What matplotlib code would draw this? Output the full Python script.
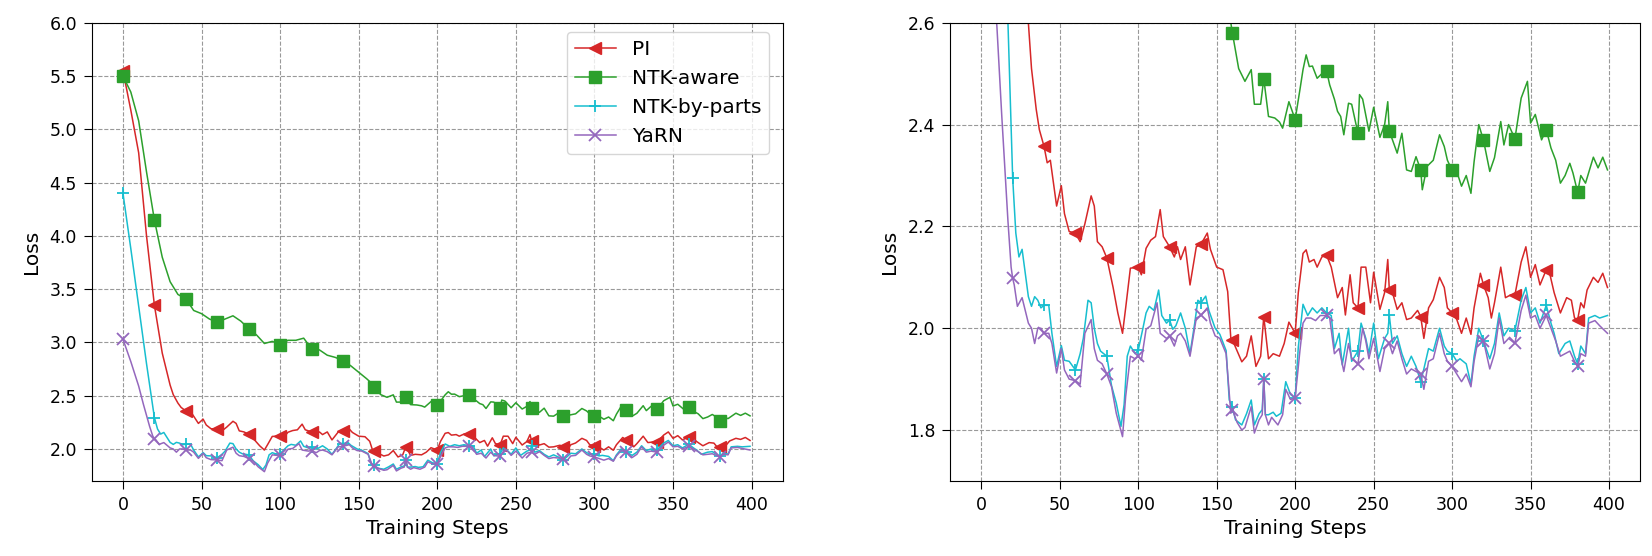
import matplotlib
matplotlib.use("Agg")
import matplotlib.pyplot as plt
import numpy as np

# ---------------- data ----------------
pi_steps = [0, 5, 10, 15, 20, 25, 30, 32, 35, 37, 40, 42, 44, 48, 51, 53, 56, 60, 63, 66, 70, 72, 74, 77,
            80, 84, 87, 90, 92, 95, 100, 102, 105, 108, 111, 114, 116, 118, 120, 123, 125, 127, 130, 133,
            137, 140, 144, 146, 150, 154, 157, 159, 160, 166, 169, 172, 175, 178, 180, 183, 186, 190, 193,
            196, 200, 202, 205, 207, 209, 212, 214, 217, 220, 223, 225, 227, 230, 232, 235, 237, 240, 242,
            245, 248, 250, 254, 257, 259, 260, 262, 265, 268, 271, 274, 278, 280, 282, 285, 288, 292, 295,
            297, 300, 303, 306, 309, 312, 314, 318, 320, 323, 325, 327, 331, 334, 337, 340, 344, 347, 350,
            353, 356, 360, 362, 365, 369, 373, 376, 378, 380, 382, 384, 386, 390, 393, 396, 399]
pi_loss = [5.55, 5.18, 4.78, 4.00, 3.35, 2.90, 2.60, 2.51, 2.43, 2.39, 2.357, 2.325, 2.33, 2.24, 2.28, 2.225,
           2.19, 2.187, 2.17, 2.205, 2.26, 2.24, 2.17, 2.16, 2.138, 2.08, 2.03, 1.99, 2.04, 2.118, 2.12, 2.105,
           2.157, 2.173, 2.18, 2.233, 2.18, 2.17, 2.16, 2.14, 2.16, 2.135, 2.16, 2.085, 2.16, 2.165, 2.187,
           2.155, 2.12, 2.115, 2.072, 1.98, 1.977, 1.934, 1.945, 1.985, 1.925, 1.945, 2.023, 1.94, 1.95, 1.945,
           1.97, 2.012, 1.99, 2.07, 2.147, 2.154, 2.13, 2.135, 2.12, 2.14, 2.144, 2.12, 2.09, 2.06, 2.08, 2.026,
           2.105, 2.05, 2.04, 2.12, 2.12, 2.05, 2.11, 2.037, 2.07, 2.135, 2.075, 2.07, 2.037, 2.05, 2.017, 2.02,
           2.035, 2.023, 1.98, 2.04, 2.056, 2.10, 2.08, 2.04, 2.03, 2.017, 1.99, 2.02, 1.988, 2.04, 2.108,
           2.085, 2.06, 2.02, 2.05, 2.12, 2.06, 2.065, 2.065, 2.13, 2.16, 2.10, 2.125, 2.085, 2.115, 2.11, 2.07,
           2.03, 2.06, 2.055, 2.02, 2.017, 2.05, 2.04, 2.075, 2.10, 2.09, 2.108, 2.08]

ntka_steps = [0, 5, 10, 15, 20, 25, 30, 35, 40, 45, 50, 55, 60, 65, 70, 75, 80, 85, 90, 95, 100, 105, 110,
              115, 120, 125, 130, 135, 140, 145, 150, 155, 158, 160, 164, 168, 172, 174, 178, 180, 183, 187,
              190, 192, 196, 200, 203, 205, 207, 209, 211, 214, 217, 220, 222, 225, 227, 229, 231, 234, 236,
              240, 241, 243, 247, 250, 254, 257, 259, 260, 262, 265, 268, 271, 274, 277, 280, 281, 284, 288,
              292, 295, 297, 300, 304, 306, 309, 312, 314, 317, 320, 324, 327, 331, 333, 336, 340, 344, 348,
              350, 353, 357, 360, 363, 366, 369, 372, 375, 377, 380, 382, 385, 390, 393, 396, 399]
ntka_loss = [5.50, 5.35, 5.08, 4.60, 4.15, 3.80, 3.57, 3.45, 3.41, 3.30, 3.27, 3.22, 3.19, 3.22, 3.25, 3.20,
             3.13, 3.07, 2.99, 3.01, 2.98, 3.02, 3.02, 3.04, 2.94, 2.93, 2.88, 2.86, 2.83, 2.78, 2.72, 2.66,
             2.62, 2.58, 2.51, 2.485, 2.508, 2.44, 2.44, 2.49, 2.416, 2.413, 2.405, 2.393, 2.445, 2.41, 2.468,
             2.508, 2.537, 2.514, 2.515, 2.491, 2.50, 2.506, 2.478, 2.45, 2.426, 2.416, 2.38, 2.442, 2.44,
             2.383, 2.459, 2.45, 2.387, 2.434, 2.375, 2.40, 2.445, 2.387, 2.37, 2.344, 2.383, 2.311, 2.308,
             2.337, 2.311, 2.272, 2.318, 2.33, 2.380, 2.357, 2.33, 2.31, 2.298, 2.279, 2.30, 2.265, 2.327,
             2.40, 2.369, 2.308, 2.335, 2.406, 2.36, 2.40, 2.372, 2.452, 2.485, 2.403, 2.42, 2.37, 2.39, 2.354,
             2.33, 2.285, 2.30, 2.324, 2.305, 2.267, 2.30, 2.285, 2.336, 2.315, 2.336, 2.311]

ntkp_steps = [0, 5, 10, 15, 17, 20, 22, 24, 26, 28, 30, 32, 34, 36, 38, 40, 43, 45, 48, 51, 53, 56, 60, 63,
              65, 68, 70, 72, 74, 76, 80, 83, 86, 89, 91, 93, 95, 98, 100, 103, 105, 107, 110, 113, 115, 118,
              120, 122, 124, 127, 130, 133, 136, 138, 140, 143, 145, 149, 152, 156, 158, 160, 162, 166, 169,
              172, 174, 177, 179, 180, 181, 183, 186, 188, 191, 194, 197, 200, 202, 205, 208, 211, 214, 217,
              220, 223, 225, 228, 230, 234, 236, 240, 242, 245, 247, 250, 253, 257, 259, 260, 262, 265, 268,
              271, 274, 277, 280, 282, 285, 288, 292, 295, 297, 300, 303, 305, 309, 312, 314, 317, 320, 324,
              327, 330, 333, 336, 340, 344, 347, 350, 353, 356, 360, 363, 365, 368, 372, 375, 378, 380, 382,
              385, 387, 391, 394, 399]
ntkp_loss = [4.40, 3.88, 3.34, 2.80, 2.60, 2.295, 2.187, 2.14, 2.155, 2.108, 2.062, 2.043, 2.062, 2.055,
             2.04, 2.045, 2.045, 1.99, 1.925, 1.966, 1.937, 1.935, 1.918, 1.95, 1.98, 2.055, 2.05, 2.0, 1.97,
             1.955, 1.945, 1.887, 1.853, 1.807, 1.85, 1.945, 1.965, 1.95, 1.957, 2.0, 2.03, 2.043, 2.035,
             2.075, 2.025, 2.01, 2.016, 1.998, 2.005, 2.03, 2.0, 1.95, 2.01, 2.055, 2.05, 2.063, 2.035, 2.00,
             1.988, 1.956, 1.859, 1.846, 1.82, 1.81, 1.832, 1.859, 1.81, 1.832, 1.84, 1.90, 1.83, 1.83, 1.835,
             1.827, 1.833, 1.895, 1.87, 1.863, 1.963, 2.047, 2.025, 2.04, 2.03, 2.04, 2.03, 2.025, 1.96, 1.99,
             1.928, 2.0, 1.935, 1.955, 2.01, 1.98, 1.95, 2.01, 1.94, 1.98, 1.99, 2.025, 1.97, 1.985, 1.95,
             1.925, 1.945, 1.925, 1.895, 1.92, 1.96, 1.955, 2.0, 1.965, 1.955, 1.95, 1.935, 1.94, 1.93, 1.89,
             1.945, 2.0, 1.975, 1.94, 1.97, 2.03, 1.985, 2.0, 1.995, 2.055, 2.08, 2.03, 2.04, 2.01, 2.045, 2.01,
             1.99, 1.95, 1.97, 1.975, 1.945, 1.93, 1.965, 1.95, 2.02, 2.025, 2.02, 2.025]

yarn_steps = [0, 5, 10, 13, 17, 19, 20, 21, 23, 26, 30, 32, 34, 36, 38, 40, 43, 45, 48, 51, 53, 56, 60, 63,
              66, 70, 72, 74, 77, 80, 83, 86, 90, 92, 95, 98, 100, 102, 105, 108, 112, 114, 118, 120, 123,
              125, 127, 130, 133, 137, 140, 144, 146, 149, 152, 156, 159, 160, 163, 166, 168, 172, 174, 177,
              179, 180, 181, 183, 185, 189, 192, 194, 197, 200, 203, 205, 207, 210, 213, 216, 220, 222, 225,
              228, 231, 234, 236, 240, 243, 245, 247, 250, 254, 257, 260, 262, 265, 268, 271, 274, 277, 280,
              282, 285, 288, 292, 295, 297, 300, 303, 306, 309, 312, 314, 317, 320, 324, 327, 330, 333, 336,
              340, 344, 347, 350, 353, 356, 360, 363, 366, 369, 372, 375, 378, 380, 382, 385, 387, 391, 394,
              399]
yarn_loss = [3.03, 2.82, 2.59, 2.42, 2.21, 2.12, 2.098, 2.085, 2.043, 2.06, 2.01, 2.0, 1.97, 2.0, 2.0, 1.99,
             1.99, 1.97, 1.912, 1.96, 1.918, 1.90, 1.897, 1.89, 1.99, 2.017, 1.96, 1.937, 1.93, 1.91, 1.885,
             1.833, 1.787, 1.866, 1.945, 1.94, 1.945, 1.937, 1.998, 2.005, 2.05, 1.99, 1.98, 1.985, 1.965,
             1.985, 1.99, 1.975, 1.945, 2.02, 2.025, 2.04, 2.01, 1.985, 1.98, 1.95, 1.833, 1.84, 1.815, 1.80,
             1.805, 1.846, 1.794, 1.82, 1.83, 1.90, 1.83, 1.81, 1.825, 1.81, 1.83, 1.88, 1.86, 1.863, 1.955,
             2.01, 2.02, 2.02, 2.015, 2.025, 2.025, 2.02, 1.95, 1.96, 1.915, 1.97, 1.94, 1.93, 2.0, 1.975,
             1.94, 1.98, 1.915, 1.96, 1.97, 1.95, 1.975, 1.94, 1.91, 1.92, 1.915, 1.91, 1.88, 1.935, 1.94,
             1.99, 1.95, 1.935, 1.925, 1.91, 1.895, 1.91, 1.885, 1.935, 1.985, 1.975, 1.92, 1.95, 2.02, 1.97,
             1.98, 1.97, 2.035, 2.065, 2.02, 2.025, 2.0, 2.025, 2.0, 1.975, 1.945, 1.95, 1.955, 1.935, 1.925,
             1.95, 1.945, 2.01, 2.015, 2.005, 1.99]

series = [
    ("PI", pi_steps, pi_loss, "#d62728", "<", 9),
    ("NTK-aware", ntka_steps, ntka_loss, "#2ca02c", "s", 9),
    ("NTK-by-parts", ntkp_steps, ntkp_loss, "#17becf", "+", 9),
    ("YaRN", yarn_steps, yarn_loss, "#9467bd", "x", 8),
]

x_ticks = [0, 50, 100, 150, 200, 250, 300, 350, 400]

# ---------------- figure ----------------
plt.rcParams["font.family"] = ["DejaVu Sans"]
plt.rcParams["font.size"] = 13

fig = plt.figure(figsize=(16.52, 5.56), dpi=100)
ax1 = fig.add_axes([0.0554, 0.135, 0.4186, 0.824])
ax2 = fig.add_axes([0.575, 0.135, 0.418, 0.824])


def draw(ax):
    for name, st, lo, col, mk, ms in series:
        st = np.asarray(st)
        idx = [i for i, s in enumerate(st) if s % 20 == 0]
        ax.plot(st, lo, color=col, lw=1.1, marker=mk, markersize=ms, markevery=idx,
                markeredgewidth=1.3 if mk in "+x" else 1.0, label=name)
    ax.set_xlim(-20, 420)
    ax.set_xticks(x_ticks)
    ax.grid(True, linestyle="--", color="#999999", linewidth=0.8)
    ax.set_xlabel("Training Steps", fontsize=14.5, labelpad=4)
    ax.set_ylabel("Loss", fontsize=14.5, labelpad=6)
    ax.tick_params(labelsize=12.5, length=5.5, pad=5)


draw(ax1)
ax1.set_ylim(1.7, 6.0)
ax1.set_yticks([2.0, 2.5, 3.0, 3.5, 4.0, 4.5, 5.0, 5.5, 6.0])
ax1.legend(loc="upper right", fontsize=14.5, bbox_to_anchor=(0.98, 0.98), borderaxespad=0.0)

draw(ax2)
ax2.set_ylim(1.7, 2.6)
ax2.set_yticks([1.8, 2.0, 2.2, 2.4, 2.6])

fig.savefig("out.png", dpi=100)
